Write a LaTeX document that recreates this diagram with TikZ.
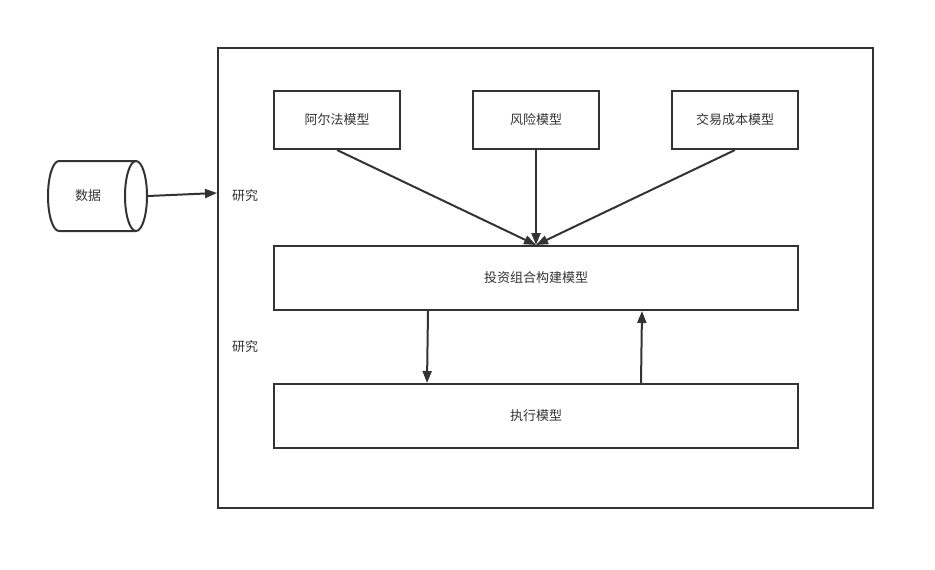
\documentclass[tikz,border=0pt]{standalone}
\usepackage{fontspec}
\newfontfamily\cjk{Noto Sans CJK SC}
\usetikzlibrary{calc,arrows.meta}
\definecolor{ink}{HTML}{333333}
\tikzset{
	modelbox/.style={draw=ink, line width=2pt, minimum width=126pt, minimum height=58pt},
	widebox/.style={modelbox, minimum width=524pt, minimum height=64pt},
	link/.style={draw=ink, line width=2pt, -{Triangle[length=12pt,width=9pt]}},
	lbl/.style={text=ink, font=\cjk\fontsize{13}{15}\selectfont}
}

\begin{document}
\begin{tikzpicture}[x=1pt, y=-1pt, every node/.append style={lbl}]
		%%%%% START %%%%%
		
		\useasboundingbox (0, 0) rectangle (935, 570);
		
		\node[draw=ink, line width=2pt, minimum width=655pt, minimum height=460pt] (outer) at (545.5, 278) {};
		
		% data store
		\draw[ink, line width=2pt] (136, 161) -- (59, 161) arc[start angle=-90, end angle=-270, x radius=11, y radius=35] -- (136, 231);
		\draw[ink, line width=2pt] (136, 196) ellipse[x radius=11, y radius=35];
		\node[minimum width=100pt, minimum height=70pt, inner sep=0pt] (data) at (98, 196) {};
		\node (datatext) at (88, 196) {数据};
		
		\node[modelbox] (alpha) at (337, 120) {阿尔法模型};
		\node[modelbox] (risk) at (536, 120) {风险模型};
		\node[modelbox] (cost) at (735, 120) {交易成本模型};
		
		\node[widebox] (port) at (536, 278) {投资组合构建模型};
		\node[widebox] (exec) at (536, 416) {执行模型};
		
		\node (study1) at (245, 196) {研究};
		\node (study2) at (245, 347) {研究};
		
		\coordinate (inlet) at ($(outer.north west)+(0, 146)$);
		\draw[link] (data.east) -- (inlet);
		
		\draw[link] (alpha.south) -- (port.north);
		\draw[link] (risk.south) -- (port.north);
		\draw[link] (cost.south) -- (port.north);
		
		\draw[link] ($(port.south west)+(155, 0)$) -- ($(exec.north west)+(154, 0)$);
		\draw[link] ($(exec.north west)+(368, 0)$) -- ($(port.south west)+(369, 0)$);
		
		%%%%% END %%%%%
	\end{tikzpicture}
\end{document}
